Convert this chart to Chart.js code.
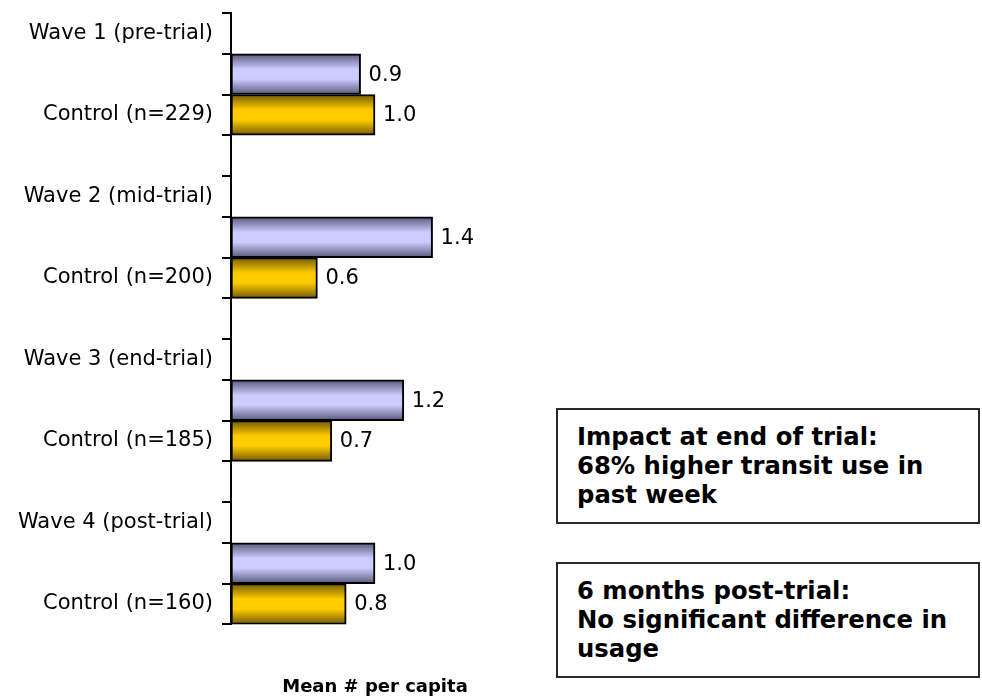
<!DOCTYPE html>
<html>
<head>
<meta charset="utf-8">
<title>Transit use per capita by survey wave</title>
<script src="https://cdn.jsdelivr.net/npm/chart.js@4/dist/chart.umd.min.js"></script>
<style>
  html, body { margin: 0; padding: 0; background: #ffffff; }
  #wrap { position: relative; width: 982px; height: 700px; }
  #chart { position: absolute; left: 0; top: 0; }
  .note {
    position: absolute;
    box-sizing: border-box;
    border: 2px solid #2a2a2a;
    background: #ffffff;
    padding: 12px 0 0 19px;
    font-family: "DejaVu Sans", Verdana, sans-serif;
    font-weight: bold;
    font-size: 24.3px;
    line-height: 29px;
    color: #000000;
    white-space: nowrap;
  }
</style>
</head>
<body>
<div id="wrap">
  <canvas id="chart" width="982" height="700"></canvas>
  <div class="note" style="left:556px; top:408px; width:424px; height:116px;">Impact at end of trial:<br>68% higher transit use in<br>past week</div>
  <div class="note" style="left:556px; top:562px; width:424px; height:116px;">6 months post-trial:<br>No significant difference in<br>usage</div>
</div>
<script>
// Survey waves and the control-group row shown under each one
const waveLabels = ["Wave 1 (pre-trial)", "Wave 2 (mid-trial)", "Wave 3 (end-trial)", "Wave 4 (post-trial)"];
const controlLabels = ["Control (n=229)", "Control (n=200)", "Control (n=185)", "Control (n=160)"];

// Mean number of transit trips per capita
const trialMeans = [0.9, 1.4, 1.2, 1.0];
const controlMeans = [1.0, 0.6, 0.7, 0.8];

const axisTitle = "Mean # per capita";

// Each wave takes four rows: heading, trial bar, control bar, spacer
const rowLabels = [];
const trialRows = [];
const controlRows = [];
waveLabels.forEach((w, i) => {
  rowLabels.push(w, "", controlLabels[i]);
  trialRows.push(null, trialMeans[i], null);
  controlRows.push(null, null, controlMeans[i]);
  if (i < waveLabels.length - 1) {
    rowLabels.push("");
    trialRows.push(null);
    controlRows.push(null);
  }
});

const labelFont = { family: "'DejaVu Sans', sans-serif", size: 21 };

// Vertical shading across each bar: dark rims, bright centre
function shadedFill(edge, mid) {
  return (ctx) => {
    const chart = ctx.chart;
    const y = chart.scales && chart.scales.y;
    if (ctx.type !== 'data' || !y || !y.height) return mid;
    const c = y.getPixelForValue(ctx.dataIndex);
    const half = y.height / rowLabels.length / 2;
    const g = chart.ctx.createLinearGradient(0, c - half, 0, c + half);
    g.addColorStop(0, edge);
    g.addColorStop(0.38, mid);
    g.addColorStop(0.62, mid);
    g.addColorStop(1, edge);
    return g;
  };
}

// Value written just past the end of each bar
const valueLabels = {
  id: 'valueLabels',
  afterDatasetsDraw(chart) {
    const ctx = chart.ctx;
    ctx.save();
    ctx.font = `${labelFont.size}px ${labelFont.family}`;
    ctx.fillStyle = '#000000';
    ctx.textAlign = 'left';
    ctx.textBaseline = 'middle';
    chart.data.datasets.forEach((ds, di) => {
      const meta = chart.getDatasetMeta(di);
      meta.data.forEach((el, i) => {
        const v = ds.data[i];
        if (v === null || v === undefined) return;
        ctx.fillText(v.toFixed(1), el.x + 8, el.y + 1);
      });
    });
    ctx.restore();
  }
};

new Chart(document.getElementById('chart'), {
  type: 'bar',
  data: {
    labels: rowLabels,
    datasets: [
      {
        label: 'Trial',
        data: trialRows,
        grouped: false,
        backgroundColor: shadedFill('#58587a', '#ccccff'),
        borderColor: '#000000',
        borderWidth: 2,
        borderSkipped: false,
        barPercentage: 1,
        categoryPercentage: 1
      },
      {
        label: 'Control',
        data: controlRows,
        grouped: false,
        backgroundColor: shadedFill('#735a00', '#ffcc00'),
        borderColor: '#000000',
        borderWidth: 2,
        borderSkipped: false,
        barPercentage: 1,
        categoryPercentage: 1
      }
    ]
  },
  options: {
    indexAxis: 'y',
    responsive: false,
    animation: false,
    layout: { padding: { top: 13, right: 463, bottom: 0, left: 0 } },
    plugins: {
      legend: { display: false },
      tooltip: { enabled: false }
    },
    scales: {
      y: {
        type: 'category',
        afterFit(scale) {
          scale.width = 231;
          scale.paddingTop = 0;
          scale.paddingBottom = 0;
        },
        grid: {
          offset: true,
          drawOnChartArea: false,
          drawTicks: true,
          tickLength: 9,
          color: '#000000',
          lineWidth: 2
        },
        border: { display: true, color: '#000000', width: 2 },
        ticks: {
          autoSkip: false,
          padding: 9,
          color: '#000000',
          font: labelFont
        }
      },
      x: {
        min: 0,
        max: 2,
        grid: { display: false, drawTicks: false },
        border: { display: false },
        ticks: { display: false },
        title: {
          display: true,
          text: axisTitle,
          color: '#000000',
          font: { family: "'DejaVu Sans', sans-serif", size: 18, weight: 'bold', lineHeight: 1.2 },
          padding: { top: 52, bottom: 2 }
        }
      }
    }
  },
  plugins: [valueLabels]
});
</script>
</body>
</html>
